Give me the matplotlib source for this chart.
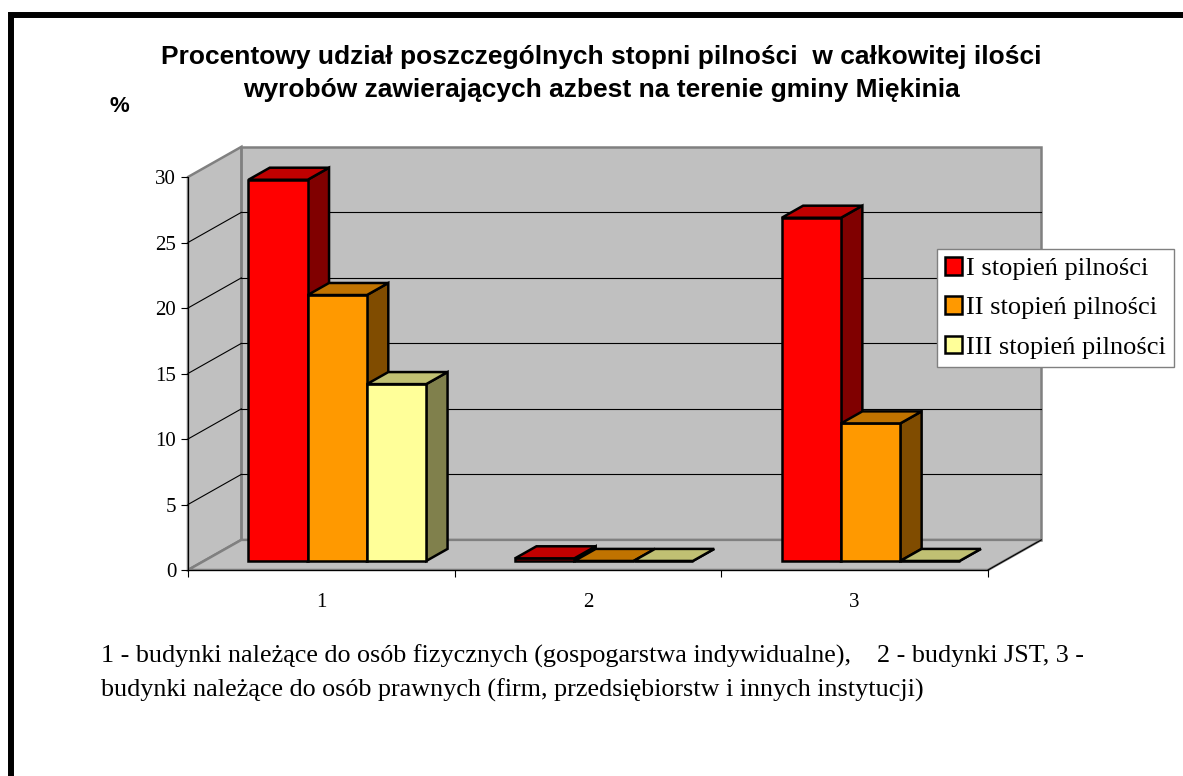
import matplotlib
matplotlib.use('Agg')
import matplotlib.pyplot as plt
from matplotlib.patches import Polygon, Rectangle, Patch

# ---- data (percent of all asbestos products, by urgency level)
categories = ['1', '2', '3']
series_names = ['I stopień pilności', 'II stopień pilności', 'III stopień pilności']
stopien_I = [29.1, 0.2, 26.2]
stopien_II = [20.3, 0.0, 10.5]
stopien_III = [13.5, 0.0, 0.0]
yticks = [0, 5, 10, 15, 20, 25, 30]

title = ('Procentowy udział poszczególnych stopni pilności  w całkowitej ilości\n'
         'wyrobów zawierających azbest na terenie gminy Miękinia')
note = ('1 - budynki należące do osób fizycznych (gospogarstwa indywidualne),    2 - budynki JST, 3 -\n'
        'budynki należące do osób prawnych (firm, przedsiębiorstw i innych instytucji)')

# Excel-ish colours: front, top, side faces
front_c = ['#FF0000', '#FF9900', '#FFFF99']
top_c = ['#C00000', '#C07300', '#C0C073']
side_c = ['#800000', '#804C00', '#80804C']
wall = '#C0C0C0'
wall_edge = '#808080'

W, H = 1183, 776
fig = plt.figure(figsize=(W / 100, H / 100), dpi=100)
# front plane of the plot: x 188..988 px, y 570 (0) .. 177 (30) px
ax = fig.add_axes([188 / W, 1 - 570 / H, 800 / W, 393 / H])
ax.set_xlim(0, 3)
ax.set_ylim(0, 30)
ax.patch.set_visible(False)

ymax = yticks[-1]
ncat = len(categories)
DX, DY = 0.2, 2.3        # full depth offset in data units
z0, dz = 0.3, 0.4        # bars sit between 30% and 70% of the depth
bw = 1 / 4.5             # bar width (gap width 150%)

def poly(pts, fc, ec, lw, zo):
    ax.add_patch(Polygon(pts, closed=True, fc=fc, ec=ec, lw=lw, joinstyle='miter',
                         clip_on=False, zorder=zo))

# walls and floor
poly([(DX, DY), (ncat + DX, DY), (ncat + DX, ymax + DY), (DX, ymax + DY)], wall, wall_edge, 1.8, 1)
poly([(0, 0), (DX, DY), (DX, ymax + DY), (0, ymax)], wall, wall_edge, 1.8, 1)
poly([(0, 0), (ncat, 0), (ncat + DX, DY), (DX, DY)], wall, wall_edge, 1.8, 1)
ax.plot([ncat, ncat + DX], [0, DY], color='black', lw=0.8, clip_on=False, zorder=1.5)

for v in yticks[1:-1]:
    ax.plot([DX, ncat + DX], [v + DY, v + DY], color='black', lw=0.8, clip_on=False, zorder=1.5)
    ax.plot([0, DX], [v, v + DY], color='black', lw=0.8, clip_on=False, zorder=1.5)

# bars
values = [stopien_I, stopien_II, stopien_III]
zo = 3
for i in range(ncat):
    for j, vals in enumerate(values):
        v = vals[i]
        x0 = i + 0.75 * bw + j * bw + z0 * DX
        x1 = x0 + bw
        yb = z0 * DY
        yt = v + yb
        ox, oy = dz * DX, dz * DY
        poly([(x1, yb), (x1 + ox, yb + oy), (x1 + ox, yt + oy), (x1, yt)], side_c[j], 'black', 1.8, zo)
        poly([(x0, yb), (x1, yb), (x1, yt), (x0, yt)], front_c[j], 'black', 1.8, zo)
        poly([(x0, yt), (x1, yt), (x1 + ox, yt + oy), (x0 + ox, yt + oy)], top_c[j], 'black', 1.8, zo)
        zo += 1

# axes / ticks
for s in ['top', 'right']:
    ax.spines[s].set_visible(False)
for s in ['left', 'bottom']:
    ax.spines[s].set_color('black')
    ax.spines[s].set_linewidth(0.8)
    ax.spines[s].set_zorder(2)
ax.set_yticks(yticks)
ax.set_yticklabels([str(t) for t in yticks], family='Liberation Serif', fontsize=15)
ax.tick_params(axis='y', direction='out', length=5, width=0.8, pad=3.5)
ax.set_xticks(range(ncat + 1))
ax.set_xticklabels([])
ax.tick_params(axis='x', which='major', direction='out', length=5, width=0.8)
ax.set_xticks([i + 0.5 for i in range(ncat)], minor=True)
ax.set_xticklabels(categories, minor=True, family='Liberation Serif', fontsize=15)
ax.tick_params(axis='x', which='minor', length=0, pad=16.5)

handles = [Patch(fc=front_c[j], ec='black', lw=1.8) for j in range(3)]
leg = ax.legend(handles, series_names, loc='upper left',
                bbox_to_anchor=(937 / W, 1 - 249 / H), bbox_transform=fig.transFigure,
                borderaxespad=0, fancybox=False, framealpha=1, edgecolor=wall_edge,
                prop={'family': 'Liberation Serif', 'size': 19},
                handlelength=0.65, handleheight=0.65, handletextpad=0.15,
                labelspacing=0.62, borderpad=0.3)
leg.get_frame().set_linewidth(1.0)
leg.set_zorder(20)

# texts
fig.text(601 / W, 1 - 73.5 / H, title, ha='center', va='center', multialignment='center',
         linespacing=1.45, family='Liberation Sans', weight='bold', fontsize=19)
fig.text(119 / W, 1 - 106 / H, '%', ha='center', va='center',
         family='Liberation Sans', weight='bold', fontsize=16)
fig.text(101 / W, 1 - 673 / H, note, ha='left', va='center', linespacing=1.58,
         family='Liberation Serif', fontsize=18.8)

# page frame
fig.add_artist(Rectangle((11 / W, -0.1), 1.2, 1 - 15 / H + 0.1, transform=fig.transFigure,
                         fill=False, ec='black', lw=4.3))

fig.savefig('out.png', dpi=100)
